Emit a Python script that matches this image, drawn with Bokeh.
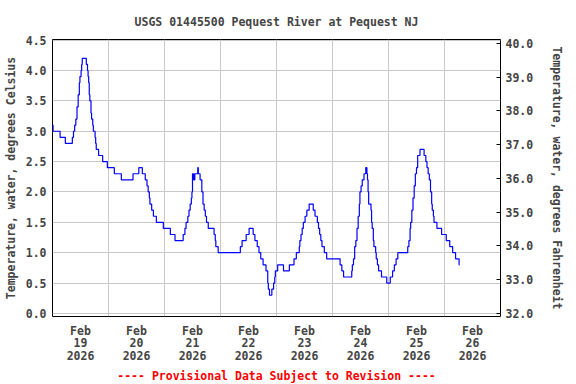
from bokeh.plotting import figure
from bokeh.models import Range1d, LinearAxis, FixedTicker, Title, NumeralTickFormatter
from bokeh.embed import file_html
from bokeh.resources import INLINE

# ---- text ----
title_text = "USGS 01445500 Pequest River at Pequest NJ"
y_label_c = "Temperature, water, degrees Celsius"
y_label_f = "Temperature, water, degrees Fahrenheit"
note_text = "---- Provisional Data Subject to Revision ----"

month = "Feb"
year = "2026"
days = ["19", "20", "21", "22", "23", "24", "25", "26"]

# ---- data: hours since 2026-02-19 00:00, water temperature (deg C), step changes ----
hours = [0, 0.25, 3.25, 5.5, 8.5, 9.0, 9.5, 10.0, 10.5, 11.0, 11.5, 11.75, 12.25, 12.5, 12.75,
         14.5, 15.0, 15.25, 15.5, 15.75, 16.0, 16.5, 16.75, 17.25, 17.5, 18.25, 18.5, 18.75,
         19.75, 21.5, 23.5, 26.5, 29.5, 34.5, 37.0, 38.5, 39.75, 40.5, 41.0, 41.5, 41.75,
         42.5, 43.25, 44.5, 47.5, 50.5, 52.5, 56.0, 56.75, 57.25, 58.0, 58.5, 59.0, 59.5,
         59.75, 60.0, 60.5, 61.0, 62.25, 62.5, 63.25, 64.0, 64.5, 65.0, 65.5, 66.0, 66.75,
         69.25, 69.75, 70.0, 71.0, 80.5, 81.25, 83.0, 84.25, 86.0, 86.75, 87.75, 88.5, 89.25,
         90.25, 91.5, 92.25, 92.5, 93.0, 94.0, 94.75, 95.25, 95.5, 96.5, 99.0, 101.5, 103.5,
         104.5, 105.75, 106.0, 106.5, 107.0, 107.5, 108.25, 109.0, 110.0, 111.75, 112.5,
         113.5, 114.0, 114.5, 115.0, 115.5, 116.5, 117.5, 123.25, 124.0, 124.75, 128.25,
         128.5, 129.0, 129.5, 130.0, 130.5, 131.0, 131.5, 131.75, 132.25, 132.75, 133.5,
         134.25, 134.75, 135.0, 135.25, 135.5, 136.5, 136.75, 137.0, 137.5, 137.75, 138.5,
         138.75, 139.25, 139.75, 141.0, 143.25, 144.75, 145.75, 146.5, 147.25, 148.0,
         152.25, 152.75, 153.25, 153.5, 154.0, 154.5, 155.0, 155.5, 156.0, 156.5, 157.5,
         159.25, 160.0, 160.5, 161.0, 161.5, 162.0, 162.5, 162.75, 163.25, 163.5, 164.75,
         166.75, 168.75, 170.25, 171.5, 172.75, 174.25, 174.5]
temps = [3.1, 3.0, 2.9, 2.8, 2.9, 3.0, 3.1, 3.2, 3.4, 3.6, 3.8, 3.9, 4.0, 4.1, 4.2,
         4.1, 4.0, 3.9, 3.8, 3.6, 3.5, 3.3, 3.2, 3.1, 3.0, 2.9, 2.8, 2.7,
         2.6, 2.5, 2.4, 2.3, 2.2, 2.3, 2.4, 2.3, 2.2, 2.1, 2.0, 1.9, 1.8,
         1.7, 1.6, 1.5, 1.4, 1.3, 1.2, 1.3, 1.4, 1.5, 1.6, 1.7, 1.8, 1.9,
         2.0, 2.3, 2.2, 2.3, 2.4, 2.3, 2.2, 2.0, 1.8, 1.7, 1.6, 1.5, 1.4,
         1.3, 1.2, 1.1, 1.0, 1.1, 1.2, 1.3, 1.4, 1.3, 1.2, 1.1, 1.0, 0.9,
         0.8, 0.7, 0.5, 0.4, 0.3, 0.4, 0.5, 0.6, 0.7, 0.8, 0.7, 0.8, 0.9,
         1.0, 1.1, 1.2, 1.3, 1.4, 1.5, 1.6, 1.7, 1.8, 1.7, 1.6,
         1.5, 1.4, 1.3, 1.2, 1.1, 1.0, 0.9, 0.8, 0.7, 0.6, 0.7,
         0.8, 0.9, 1.1, 1.2, 1.4, 1.6, 1.8, 2.0, 2.1, 2.2, 2.3,
         2.4, 2.3, 2.2, 2.0, 1.8, 1.7, 1.5, 1.4, 1.2, 1.1, 1.0,
         0.9, 0.8, 0.7, 0.6, 0.5, 0.6, 0.7, 0.8, 0.9, 1.0,
         1.1, 1.2, 1.4, 1.5, 1.7, 1.9, 2.1, 2.3, 2.4, 2.6, 2.7,
         2.6, 2.5, 2.4, 2.3, 2.2, 2.0, 1.8, 1.7, 1.6, 1.5, 1.4,
         1.3, 1.2, 1.1, 1.0, 0.9, 0.8, 0.8]

c_ticks = [0.0, 0.5, 1.0, 1.5, 2.0, 2.5, 3.0, 3.5, 4.0, 4.5]
f_ticks = [32, 33, 34, 35, 36, 37, 38, 39, 40]
c_min, c_max = -0.05, 4.51
x_start, x_end = 0, 192

FONT = "DejaVu Sans Mono"
FS = "11.5px"

p = figure(frame_width=448, frame_height=277,
           x_range=Range1d(x_start, x_end), y_range=Range1d(c_min, c_max),
           output_backend="svg", toolbar_location=None,
           min_border_left=51, min_border_right=75, min_border_top=39, min_border_bottom=66,
           background_fill_color="white", border_fill_color="white")

p.outline_line_color = "black"
p.outline_line_width = 1

p.title.text = title_text
p.title.align = "center"
p.title.text_font = FONT
p.title.text_font_size = FS
p.title.text_font_style = "bold"
p.title.standoff = 21

# grids
p.xgrid.ticker = FixedTicker(ticks=[24 * i for i in range(len(days) + 1)])
p.ygrid.ticker = FixedTicker(ticks=c_ticks)
for g in (p.xgrid[0], p.ygrid[0]):
    g.grid_line_color = "#c8c8c8"
    g.grid_line_width = 1

# bottom axis
xa = p.below[0]
x_label_ticks = [12 + 24 * i for i in range(len(days))]
xa.ticker = FixedTicker(ticks=x_label_ticks)
xa.major_label_overrides = {t: f"{month}\n{d}\n{year}" for t, d in zip(x_label_ticks, days)}
xa.major_tick_in = 0
xa.major_tick_out = 0
xa.minor_tick_in = 0
xa.minor_tick_out = 0
xa.axis_line_color = None
xa.major_label_standoff = 7
xa.major_label_text_font = FONT
xa.major_label_text_font_size = FS
xa.major_label_text_font_style = "bold"
xa.major_label_text_line_height = 0.9

# left axis
ya = p.left[0]
ya.ticker = FixedTicker(ticks=c_ticks)
ya.formatter = NumeralTickFormatter(format="0.0")
ya.major_tick_in = 0
ya.major_tick_out = 0
ya.minor_tick_in = 0
ya.minor_tick_out = 0
ya.axis_line_color = None
ya.major_label_standoff = 6
ya.major_label_text_font = FONT
ya.major_label_text_font_size = FS
ya.major_label_text_font_style = "bold"
ya.axis_label = y_label_c
ya.axis_label_text_font = FONT
ya.axis_label_text_font_size = FS
ya.axis_label_text_font_style = "bold"
ya.axis_label_standoff = 5

# right axis (Fahrenheit)
p.extra_y_ranges = {"f": Range1d(32 + 1.8 * c_min, 32 + 1.8 * c_max)}
fa = LinearAxis(y_range_name="f", ticker=FixedTicker(ticks=f_ticks),
                formatter=NumeralTickFormatter(format="0.0"))
fa.major_tick_in = 4
fa.major_tick_out = 0
fa.minor_tick_in = 0
fa.minor_tick_out = 0
fa.axis_line_color = None
fa.major_tick_line_color = "black"
fa.major_label_standoff = 5
fa.major_label_text_font = FONT
fa.major_label_text_font_size = FS
fa.major_label_text_font_style = "bold"
fa.axis_label = y_label_f
fa.axis_label_text_font = FONT
fa.axis_label_text_font_size = FS
fa.axis_label_text_font_style = "bold"
fa.axis_label_standoff = 14
p.add_layout(fa, "right")

# note below
note = Title(text=note_text, align="center", text_color="#ff0000", text_font=FONT,
             text_font_size=FS, text_font_style="bold", standoff=2)
p.add_layout(note, "below")

p.step(hours, temps, mode="after", line_color="#0000ff", line_width=1.2)

open("out.html", "w").write(file_html(p, INLINE))
